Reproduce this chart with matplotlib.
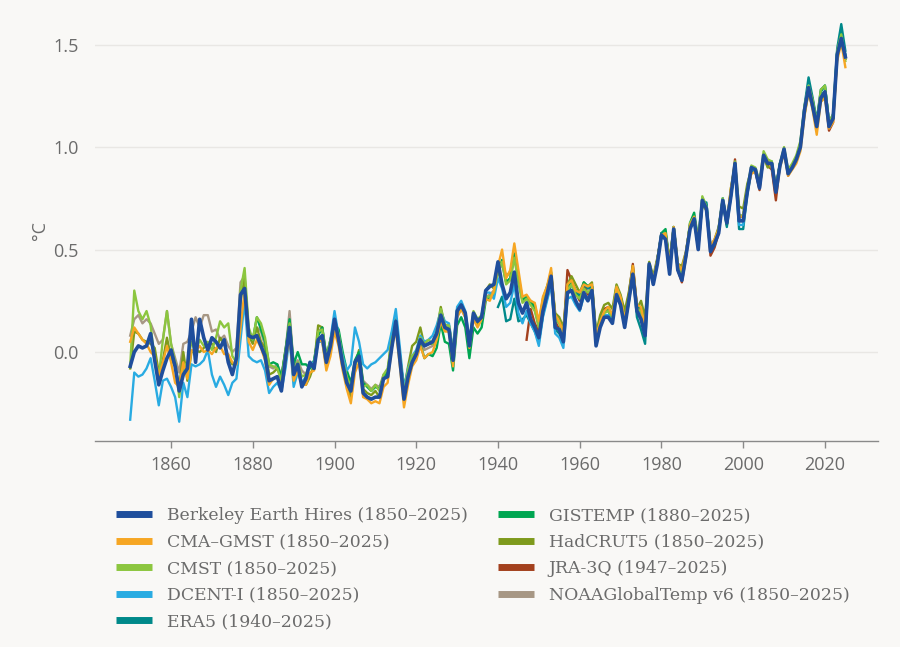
import numpy as np
import matplotlib
matplotlib.use("Agg")
import matplotlib.pyplot as plt

# Global mean temperature anomalies (°C)
berkeley = [
    -0.07, 0.00, 0.03, 0.02, 0.03, 0.09, -0.04, -0.16, -0.09, -0.03,
    0.01, -0.07, -0.19, -0.11, -0.08, 0.16, -0.05, 0.16, 0.07, 0.01,
    0.07, 0.05, 0.02, 0.06, -0.05, -0.11, -0.03, 0.28, 0.31, 0.08,
    0.07, 0.08, 0.03, -0.02, -0.14, -0.13, -0.12, -0.19, -0.03, 0.12,
    -0.11, -0.06, -0.17, -0.13, -0.05, -0.08, 0.06, 0.08, -0.05, 0.03,
    0.16, 0.06, -0.06, -0.15, -0.19, -0.05, -0.02, -0.20, -0.22, -0.23,
    -0.22, -0.22, -0.13, -0.12, 0.02, 0.15, -0.04, -0.23, -0.12, -0.05,
    -0.01, 0.06, 0.03, 0.04, 0.05, 0.09, 0.18, 0.12, 0.11, -0.04,
    0.20, 0.23, 0.19, 0.03, 0.19, 0.15, 0.17, 0.30, 0.32, 0.33,
    0.44, 0.33, 0.26, 0.29, 0.39, 0.24, 0.19, 0.24, 0.16, 0.12,
    0.07, 0.20, 0.28, 0.37, 0.12, 0.11, 0.05, 0.29, 0.30, 0.25,
    0.21, 0.29, 0.25, 0.30, 0.03, 0.12, 0.17, 0.17, 0.14, 0.28,
    0.23, 0.12, 0.25, 0.38, 0.20, 0.16, 0.08, 0.43, 0.33, 0.43,
    0.57, 0.55, 0.38, 0.60, 0.40, 0.35, 0.47, 0.60, 0.65, 0.50,
    0.74, 0.70, 0.49, 0.53, 0.58, 0.74, 0.63, 0.76, 0.92, 0.64,
    0.64, 0.78, 0.90, 0.89, 0.80, 0.96, 0.92, 0.92, 0.78, 0.91,
    0.99, 0.87, 0.90, 0.94, 1.00, 1.18, 1.29, 1.20, 1.10, 1.24,
    1.27, 1.10, 1.14, 1.45, 1.53, 1.44,
]

cma_gmst = [
    0.05, 0.12, 0.09, 0.06, 0.04, 0.00, -0.02, -0.12, -0.05, 0.03,
    -0.05, -0.15, -0.17, -0.05, -0.13, 0.01, 0.00, 0.03, 0.00, 0.01,
    -0.01, 0.02, 0.03, -0.01, -0.01, -0.05, -0.06, 0.12, 0.30, 0.05,
    0.01, 0.06, 0.02, -0.04, -0.16, -0.13, -0.12, -0.17, -0.05, 0.08,
    -0.14, -0.09, -0.16, -0.16, -0.10, -0.09, 0.06, 0.05, -0.09, -0.02,
    0.10, 0.03, -0.09, -0.18, -0.25, -0.10, -0.05, -0.22, -0.23, -0.25,
    -0.24, -0.25, -0.17, -0.15, 0.02, 0.11, -0.07, -0.27, -0.16, -0.07,
    -0.04, 0.03, -0.03, -0.01, 0.00, 0.06, 0.15, 0.10, 0.10, -0.07,
    0.17, 0.21, 0.17, 0.02, 0.16, 0.12, 0.16, 0.26, 0.25, 0.30,
    0.42, 0.50, 0.36, 0.40, 0.53, 0.40, 0.27, 0.28, 0.25, 0.24,
    0.15, 0.27, 0.32, 0.41, 0.18, 0.15, 0.10, 0.33, 0.35, 0.30,
    0.29, 0.33, 0.32, 0.33, 0.08, 0.15, 0.20, 0.22, 0.18, 0.32,
    0.27, 0.16, 0.26, 0.42, 0.23, 0.22, 0.12, 0.43, 0.35, 0.45,
    0.57, 0.58, 0.43, 0.61, 0.43, 0.40, 0.49, 0.62, 0.66, 0.54,
    0.73, 0.70, 0.52, 0.55, 0.60, 0.74, 0.63, 0.80, 0.90, 0.66,
    0.66, 0.79, 0.87, 0.88, 0.82, 0.95, 0.93, 0.90, 0.79, 0.90,
    0.97, 0.86, 0.89, 0.92, 0.98, 1.15, 1.27, 1.18, 1.06, 1.22,
    1.24, 1.09, 1.12, 1.42, 1.51, 1.39,
]

cmst = [
    -0.07, 0.30, 0.20, 0.16, 0.20, 0.13, -0.04, -0.12, 0.06, 0.20,
    0.04, -0.05, -0.22, -0.08, -0.05, 0.05, 0.00, 0.06, 0.03, 0.05,
    0.01, 0.07, 0.15, 0.12, 0.14, -0.02, -0.05, 0.30, 0.41, 0.12,
    0.06, 0.17, 0.14, 0.07, -0.06, -0.07, -0.08, -0.14, 0.00, 0.14,
    -0.09, -0.05, -0.12, -0.11, -0.05, -0.07, 0.10, 0.11, -0.03, 0.06,
    0.13, 0.09, -0.04, -0.12, -0.17, -0.06, -0.03, -0.17, -0.16, -0.19,
    -0.16, -0.19, -0.11, -0.08, 0.06, 0.13, -0.02, -0.20, -0.09, -0.02,
    0.00, 0.07, 0.04, 0.06, 0.04, 0.10, 0.21, 0.13, 0.13, 0.00,
    0.19, 0.22, 0.19, 0.05, 0.20, 0.16, 0.18, 0.27, 0.27, 0.29,
    0.40, 0.44, 0.33, 0.35, 0.46, 0.34, 0.24, 0.26, 0.23, 0.20,
    0.12, 0.24, 0.30, 0.38, 0.16, 0.14, 0.08, 0.30, 0.33, 0.28,
    0.26, 0.31, 0.29, 0.31, 0.06, 0.13, 0.19, 0.20, 0.17, 0.30,
    0.26, 0.15, 0.25, 0.40, 0.21, 0.20, 0.10, 0.43, 0.35, 0.45,
    0.57, 0.57, 0.42, 0.61, 0.42, 0.38, 0.48, 0.63, 0.66, 0.53,
    0.76, 0.71, 0.51, 0.54, 0.60, 0.75, 0.64, 0.77, 0.93, 0.66,
    0.67, 0.80, 0.91, 0.90, 0.83, 0.98, 0.94, 0.93, 0.80, 0.92,
    1.00, 0.89, 0.92, 0.96, 1.03, 1.20, 1.30, 1.23, 1.12, 1.28,
    1.30, 1.12, 1.16, 1.47, 1.55, 1.42,
]

dcent = [
    -0.33, -0.10, -0.12, -0.11, -0.08, -0.03, -0.14, -0.26, -0.14, -0.13,
    -0.17, -0.22, -0.34, -0.15, -0.22, -0.06, -0.07, -0.06, -0.04, 0.01,
    -0.11, -0.17, -0.12, -0.16, -0.21, -0.15, -0.13, 0.06, 0.25, -0.02,
    -0.04, -0.05, -0.04, -0.09, -0.20, -0.17, -0.15, -0.19, -0.08, 0.07,
    -0.17, -0.10, -0.15, -0.12, -0.06, -0.05, 0.05, 0.05, -0.07, 0.06,
    0.20, 0.08, -0.02, -0.09, -0.06, 0.12, 0.05, -0.06, -0.08, -0.06,
    -0.05, -0.03, -0.01, 0.01, 0.10, 0.21, 0.02, -0.18, -0.08, -0.02,
    0.01, 0.08, 0.05, 0.06, 0.08, 0.13, 0.20, 0.15, 0.14, 0.01,
    0.22, 0.25, 0.20, 0.06, 0.18, 0.16, 0.17, 0.29, 0.29, 0.26,
    0.36, 0.31, 0.22, 0.24, 0.33, 0.19, 0.14, 0.20, 0.14, 0.10,
    0.03, 0.17, 0.25, 0.33, 0.09, 0.07, 0.02, 0.26, 0.27, 0.23,
    0.20, 0.27, 0.25, 0.30, 0.04, 0.13, 0.18, 0.18, 0.15, 0.29,
    0.24, 0.13, 0.25, 0.39, 0.21, 0.17, 0.09, 0.42, 0.34, 0.43,
    0.57, 0.57, 0.40, 0.61, 0.41, 0.36, 0.48, 0.62, 0.66, 0.51,
    0.74, 0.70, 0.49, 0.54, 0.59, 0.75, 0.63, 0.77, 0.91, 0.62,
    0.62, 0.78, 0.89, 0.89, 0.81, 0.96, 0.93, 0.92, 0.78, 0.91,
    0.99, 0.87, 0.90, 0.94, 1.01, 1.19, 1.30, 1.21, 1.10, 1.25,
    1.27, 1.10, 1.14, 1.46, 1.54, 1.45,
]

era5 = [
    0.22, 0.27, 0.15, 0.16, 0.26, 0.15, 0.16, 0.18, 0.14, 0.10,
    0.05, 0.18, 0.26, 0.34, 0.11, 0.09, 0.05, 0.28, 0.33, 0.30,
    0.28, 0.33, 0.31, 0.32, 0.06, 0.14, 0.20, 0.20, 0.16, 0.30,
    0.25, 0.13, 0.24, 0.39, 0.17, 0.11, 0.04, 0.43, 0.34, 0.45,
    0.58, 0.56, 0.40, 0.60, 0.40, 0.37, 0.48, 0.62, 0.64, 0.51,
    0.72, 0.73, 0.51, 0.52, 0.59, 0.73, 0.61, 0.76, 0.90, 0.60,
    0.60, 0.77, 0.88, 0.88, 0.80, 0.95, 0.92, 0.92, 0.79, 0.92,
    0.98, 0.87, 0.91, 0.95, 1.01, 1.20, 1.34, 1.24, 1.13, 1.28,
    1.30, 1.12, 1.16, 1.48, 1.60, 1.47,
]

gistemp = [
    0.06, 0.17, 0.11, 0.05, -0.06, -0.05, -0.06, -0.12, 0.01, 0.16,
    -0.06, 0.00, -0.06, -0.06, -0.08, -0.04, 0.08, 0.12, -0.02, 0.06,
    0.14, 0.11, 0.00, -0.09, -0.15, -0.04, 0.00, -0.15, -0.17, -0.19,
    -0.17, -0.18, -0.12, -0.10, 0.03, 0.12, -0.04, -0.16, -0.11, -0.04,
    -0.02, 0.04, -0.03, -0.01, -0.02, 0.02, 0.14, 0.05, 0.04, -0.09,
    0.13, 0.17, 0.12, -0.03, 0.12, 0.09, 0.12, 0.25, 0.27, 0.28,
    0.39, 0.45, 0.34, 0.36, 0.48, 0.36, 0.25, 0.27, 0.24, 0.22,
    0.13, 0.25, 0.31, 0.39, 0.17, 0.15, 0.09, 0.32, 0.34, 0.30,
    0.26, 0.34, 0.32, 0.32, 0.08, 0.15, 0.20, 0.21, 0.18, 0.32,
    0.27, 0.16, 0.26, 0.40, 0.22, 0.22, 0.11, 0.43, 0.35, 0.44,
    0.58, 0.60, 0.43, 0.61, 0.42, 0.38, 0.47, 0.63, 0.68, 0.55,
    0.75, 0.72, 0.51, 0.53, 0.60, 0.75, 0.64, 0.76, 0.91, 0.66,
    0.66, 0.79, 0.89, 0.89, 0.82, 0.96, 0.93, 0.93, 0.80, 0.92,
    0.99, 0.88, 0.91, 0.95, 1.02, 1.19, 1.31, 1.23, 1.12, 1.27,
    1.30, 1.12, 1.15, 1.46, 1.56, 1.45,
]

hadcrut5 = [
    -0.08, 0.10, 0.09, 0.06, 0.05, 0.04, 0.02, -0.10, -0.04, 0.07,
    -0.03, -0.07, -0.17, 0.00, -0.14, 0.00, 0.01, 0.00, 0.02, 0.04,
    0.04, 0.00, 0.07, 0.04, -0.03, -0.06, -0.05, 0.25, 0.36, 0.08,
    0.04, 0.12, 0.05, 0.02, -0.11, -0.10, -0.08, -0.13, 0.01, 0.12,
    -0.14, -0.07, -0.15, -0.16, -0.12, -0.06, 0.13, 0.12, -0.07, 0.05,
    0.14, 0.08, -0.05, -0.15, -0.22, -0.07, 0.01, -0.18, -0.20, -0.21,
    -0.19, -0.22, -0.12, -0.11, 0.09, 0.16, -0.04, -0.18, -0.07, 0.03,
    0.05, 0.12, 0.03, 0.04, 0.04, 0.10, 0.22, 0.13, 0.13, 0.00,
    0.21, 0.24, 0.18, 0.05, 0.19, 0.14, 0.18, 0.30, 0.33, 0.31,
    0.41, 0.44, 0.37, 0.39, 0.48, 0.37, 0.26, 0.26, 0.25, 0.23,
    0.14, 0.26, 0.32, 0.38, 0.19, 0.17, 0.12, 0.33, 0.37, 0.33,
    0.29, 0.34, 0.32, 0.34, 0.09, 0.18, 0.23, 0.24, 0.21, 0.33,
    0.28, 0.20, 0.29, 0.42, 0.21, 0.25, 0.17, 0.44, 0.37, 0.46,
    0.56, 0.58, 0.45, 0.61, 0.43, 0.42, 0.49, 0.61, 0.65, 0.53,
    0.72, 0.69, 0.51, 0.55, 0.61, 0.74, 0.62, 0.80, 0.92, 0.71,
    0.70, 0.82, 0.89, 0.89, 0.82, 0.95, 0.90, 0.91, 0.80, 0.92,
    0.98, 0.87, 0.90, 0.94, 1.00, 1.16, 1.27, 1.19, 1.11, 1.23,
    1.25, 1.11, 1.14, 1.44, 1.53, 1.43,
]

jra3q = [
    0.06, 0.21, 0.14,
    0.10, 0.22, 0.30, 0.36, 0.15, 0.11, 0.08, 0.40, 0.35, 0.29,
    0.25, 0.33, 0.28, 0.32, 0.05, 0.15, 0.21, 0.22, 0.17, 0.30,
    0.27, 0.16, 0.28, 0.43, 0.22, 0.19, 0.10, 0.43, 0.34, 0.45,
    0.58, 0.56, 0.39, 0.60, 0.40, 0.34, 0.46, 0.61, 0.66, 0.50,
    0.73, 0.71, 0.47, 0.51, 0.58, 0.74, 0.62, 0.77, 0.94, 0.64,
    0.64, 0.78, 0.89, 0.88, 0.79, 0.96, 0.91, 0.89, 0.74, 0.91,
    0.99, 0.86, 0.90, 0.94, 1.00, 1.18, 1.30, 1.20, 1.09, 1.25,
    1.27, 1.08, 1.12, 1.45, 1.56, 1.44,
]

noaa = [
    0.08, 0.16, 0.18, 0.14, 0.16, 0.14, 0.09, 0.04, 0.06, 0.20,
    0.04, -0.03, -0.10, 0.04, 0.05, 0.10, 0.17, 0.12, 0.18, 0.18,
    0.10, 0.11, 0.06, 0.08, 0.03, 0.00, 0.02, 0.34, 0.37, 0.10,
    0.07, 0.12, 0.10, 0.03, -0.07, -0.08, -0.06, -0.12, 0.00, 0.20,
    -0.07, -0.04, -0.09, -0.11, -0.07, -0.06, 0.10, 0.12, -0.02, 0.04,
    0.13, 0.08, -0.03, -0.12, -0.17, -0.05, 0.00, -0.14, -0.16, -0.18,
    -0.16, -0.17, -0.11, -0.10, 0.05, 0.12, -0.02, -0.18, -0.10, -0.02,
    -0.01, 0.07, 0.01, 0.02, 0.03, 0.07, 0.18, 0.11, 0.10, -0.03,
    0.17, 0.21, 0.17, 0.03, 0.17, 0.13, 0.16, 0.27, 0.28, 0.30,
    0.39, 0.43, 0.34, 0.36, 0.46, 0.35, 0.25, 0.26, 0.23, 0.21,
    0.12, 0.24, 0.30, 0.37, 0.16, 0.14, 0.09, 0.32, 0.35, 0.30,
    0.27, 0.33, 0.31, 0.32, 0.07, 0.15, 0.21, 0.21, 0.18, 0.31,
    0.26, 0.16, 0.26, 0.40, 0.21, 0.21, 0.12, 0.43, 0.35, 0.45,
    0.57, 0.58, 0.43, 0.61, 0.42, 0.39, 0.48, 0.62, 0.66, 0.53,
    0.74, 0.70, 0.51, 0.54, 0.60, 0.74, 0.63, 0.79, 0.91, 0.67,
    0.66, 0.80, 0.89, 0.89, 0.82, 0.96, 0.92, 0.92, 0.80, 0.92,
    0.98, 0.87, 0.90, 0.94, 1.01, 1.17, 1.29, 1.21, 1.11, 1.25,
    1.27, 1.11, 1.14, 1.44, 1.54, 1.43,
]

# (label, first year, values, colour, line width)
series = [
    ("Berkeley Earth Hires (1850–2025)", 1850, berkeley, "#1f4e9c", 2.6),
    ("CMA–GMST (1850–2025)", 1850, cma_gmst, "#f6a623", 1.7),
    ("CMST (1850–2025)", 1850, cmst, "#8cc63f", 1.7),
    ("DCENT-I (1850–2025)", 1850, dcent, "#29abe2", 1.7),
    ("ERA5 (1940–2025)", 1940, era5, "#00898a", 1.7),
    ("GISTEMP (1880–2025)", 1880, gistemp, "#00a651", 1.7),
    ("HadCRUT5 (1850–2025)", 1850, hadcrut5, "#7e9a1c", 1.7),
    ("JRA-3Q (1947–2025)", 1947, jra3q, "#a3401d", 1.7),
    ("NOAAGlobalTemp v6 (1850–2025)", 1850, noaa, "#a79784", 1.7),
]

bg = "#f9f8f6"
txt = "#6b6b6b"

fig = plt.figure(figsize=(9, 6.47), dpi=100, facecolor=bg)
ax = fig.add_axes([0.1056, 0.3184, 0.87, 0.6507], facecolor=bg)

n = len(series)
for i, (label, start, vals, col, lw) in enumerate(series):
    yrs = np.arange(start, start + len(vals))
    ax.plot(yrs, vals, color=col, lw=lw, label=label, zorder=10 + n - i,
            solid_joinstyle="round")

ax.set_xlim(1841.4, 2033)
ax.set_ylim(-0.434, 1.62)
ax.set_xticks(np.arange(1860, 2021, 20))
ax.set_yticks([0.0, 0.5, 1.0, 1.5])
ax.set_yticklabels(["0.0", "0.5", "1.0", "1.5"])
ax.grid(axis="y", color="#e9e7e4", lw=1)
ax.set_axisbelow(True)

for s in ["top", "right", "left"]:
    ax.spines[s].set_visible(False)
ax.spines["bottom"].set_color("#8a8a8a")
ax.spines["bottom"].set_linewidth(1)

ax.tick_params(axis="x", length=5, width=1, color="#8a8a8a", colors=txt,
               labelsize=13, pad=6)
ax.tick_params(axis="y", length=0, colors=txt, labelsize=13, pad=12)
for lab in ax.get_xticklabels() + ax.get_yticklabels():
    lab.set_fontfamily("Open Sans")

ax.set_ylabel("°C", color=txt, fontsize=13, fontfamily="Open Sans", labelpad=3)

leg = fig.legend(loc="upper left", bbox_to_anchor=(0.129, 0.2165), ncol=2,
                 frameon=False, handlelength=2.1, handletextpad=0.85,
                 columnspacing=1.75, labelspacing=0.56, borderpad=0,
                 borderaxespad=0,
                 prop={"family": "DejaVu Serif", "size": 12.4})
for line in leg.get_lines():
    line.set_linewidth(5)
    line.set_solid_capstyle("butt")
for t in leg.get_texts():
    t.set_color(txt)

fig.savefig("out.png", dpi=100, facecolor=bg)
